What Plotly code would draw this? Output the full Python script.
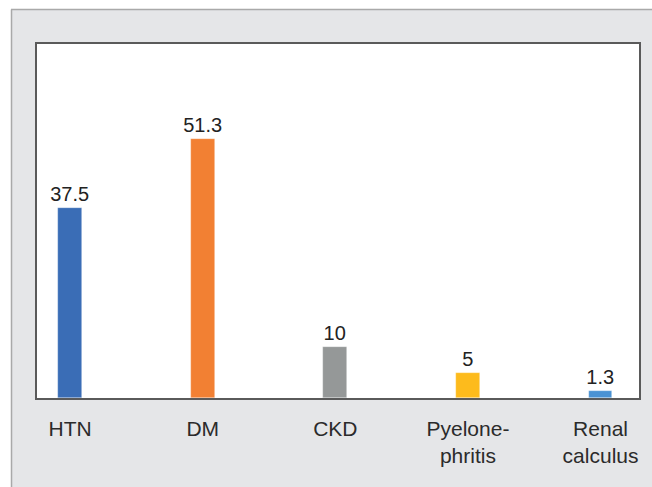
import plotly.graph_objects as go

categories = ["HTN", "DM", "CKD", "Pyelone-<br>phritis", "Renal<br>calculus"]
values = [37.5, 51.3, 10, 5, 1.3]
value_labels = ["37.5", "51.3", "10", "5", "1.3"]
colors = ["#3a6db6", "#f28033", "#959898", "#fdbb1c", "#4a92d3"]

W, H = 652, 487
ml, mr, mt, mb = 37, 13, 44, 89
pw, ph = W - ml - mr, H - mt - mb

def px_x(p):
    return (p - ml) / pw

def px_y(p):
    return (H - mb - p) / ph

fig = go.Figure(
    go.Bar(
        x=categories,
        y=values,
        text=value_labels,
        textposition="outside",
        textfont=dict(size=20, color="#222222", family="Liberation Sans, Arial"),
        marker=dict(color=colors, line=dict(color="rgba(255,255,255,0.5)", width=0.6)),
        width=0.18,
        cliponaxis=False,
    )
)

shapes = [
    dict(type="rect", xref="paper", yref="paper", x0=px_x(-5), x1=px_x(W + 5), y0=px_y(9), y1=px_y(-5),
         fillcolor="white", line=dict(width=0), layer="below"),
    dict(type="rect", xref="paper", yref="paper", x0=px_x(-5), x1=px_x(11), y0=px_y(H + 5), y1=px_y(-5),
         fillcolor="white", line=dict(width=0), layer="below"),
    dict(type="line", xref="paper", yref="paper", x0=px_x(11), x1=px_x(W + 5), y0=px_y(9.5), y1=px_y(9.5),
         line=dict(color="#a9a9a9", width=1.5), layer="below"),
    dict(type="line", xref="paper", yref="paper", x0=px_x(11.5), x1=px_x(11.5), y0=px_y(9.5), y1=px_y(H + 5),
         line=dict(color="#a9a9a9", width=1.5), layer="below"),
]

fig.update_layout(
    width=W,
    height=H,
    margin=dict(l=ml, r=mr, t=mt, b=mb, pad=0),
    paper_bgcolor="#e5e6e8",
    plot_bgcolor="white",
    showlegend=False,
    shapes=shapes,
    font=dict(family="Liberation Sans, Arial", color="#2b2b2b"),
    bargap=0,
    uniformtext=dict(minsize=20, mode="show"),
)
fig.update_xaxes(
    type="category",
    range=[-0.25, 4.29],
    showline=True,
    mirror=True,
    linecolor="#5a5a5a",
    linewidth=1.5,
    showgrid=False,
    ticks="",
    ticklabelstandoff=11,
    tickfont=dict(size=21, color="#2b2b2b"),
    fixedrange=True,
)
fig.update_yaxes(
    range=[0, 70],
    showline=True,
    mirror=True,
    linecolor="#5a5a5a",
    linewidth=1.5,
    showgrid=False,
    showticklabels=False,
    ticks="",
    zeroline=False,
    fixedrange=True,
)

fig.write_html("out.html")
